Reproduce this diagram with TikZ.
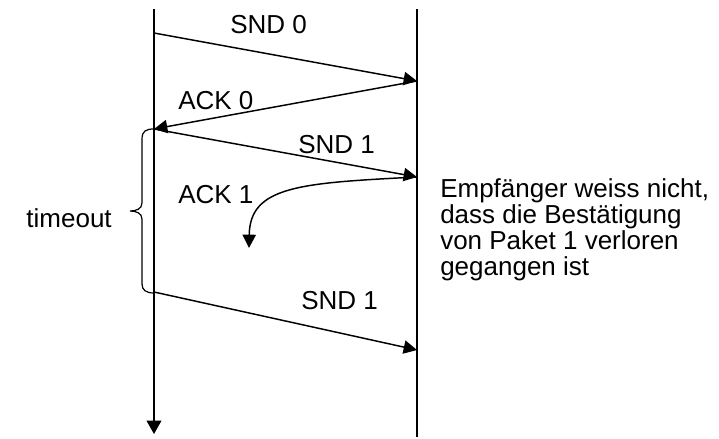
\documentclass[tikz,border=0pt]{standalone}
\usepackage{fontspec}
\setmainfont{Liberation Sans}
\usetikzlibrary{arrows.meta}
\begin{document}
\begin{tikzpicture}[x=0.75pt,y=-0.75pt,
  wire/.style={line width=1.2pt},
  msg/.style={line width=1.1pt,-{Triangle[length=10pt,width=10pt]}},
  lbl/.style={inner sep=0pt,font=\fontsize{19.5}{19.5}\selectfont},
  note/.style={inner sep=0pt,align=left,font=\fontsize{19.5}{19.5}\selectfont}]
\useasboundingbox[fill=white] (0,0) rectangle (719,439);
% time lines
\coordinate (Ltop) at (154,9);
\coordinate (Lbot) at (154,434);
\coordinate (Rtop) at (417,9);
\coordinate (Rbot) at (417,437);
% message points
\coordinate (A) at (154,33);
\coordinate (B) at (417,81);
\coordinate (C) at (154,129);
\coordinate (D) at (417,177);
\coordinate (E) at (249,248);
\coordinate (F) at (154,292);
\coordinate (G) at (417,350);
\draw[wire,-{Triangle[length=10pt,width=11pt]}] (Ltop) -- (Lbot);
\draw[wire] (Rtop) -- (Rbot);
\draw[msg] (A) -- (B);
\draw[msg] (B) -- (C);
\draw[msg] (C) -- (D);
\draw[msg] (D) .. controls (300,183) and (250,186) .. (E);
\draw[msg] (F) -- (G);
% brace
\draw[line width=0.9pt] (C) .. controls (146,129) and (142,131) .. (142,139)
  -- (142,203) .. controls (142,209) and (136,211) .. (130,211)
  .. controls (136,211) and (142,213) .. (142,219)
  -- (142,284) .. controls (142,290) and (146,293) .. (154,293);
% labels
\node[lbl,anchor=base west] (snd0) at (230,33) {SND 0};
\node[lbl,anchor=base west] (ack0) at (178,109) {ACK 0};
\node[lbl,anchor=base west] (snd1a) at (298,153) {SND 1};
\node[lbl,anchor=base west] (ack1) at (178,203) {ACK 1};
\node[lbl,anchor=base west] (snd1b) at (301,309) {SND 1};
\node[lbl,anchor=base east] (to) at (112,227) {timeout};
\node[note,anchor=base west] (txt) at (440,275) {Empfänger weiss nicht,\\dass die Bestätigung\\von Paket 1 verloren\\gegangen ist};
\end{tikzpicture}
\end{document}
